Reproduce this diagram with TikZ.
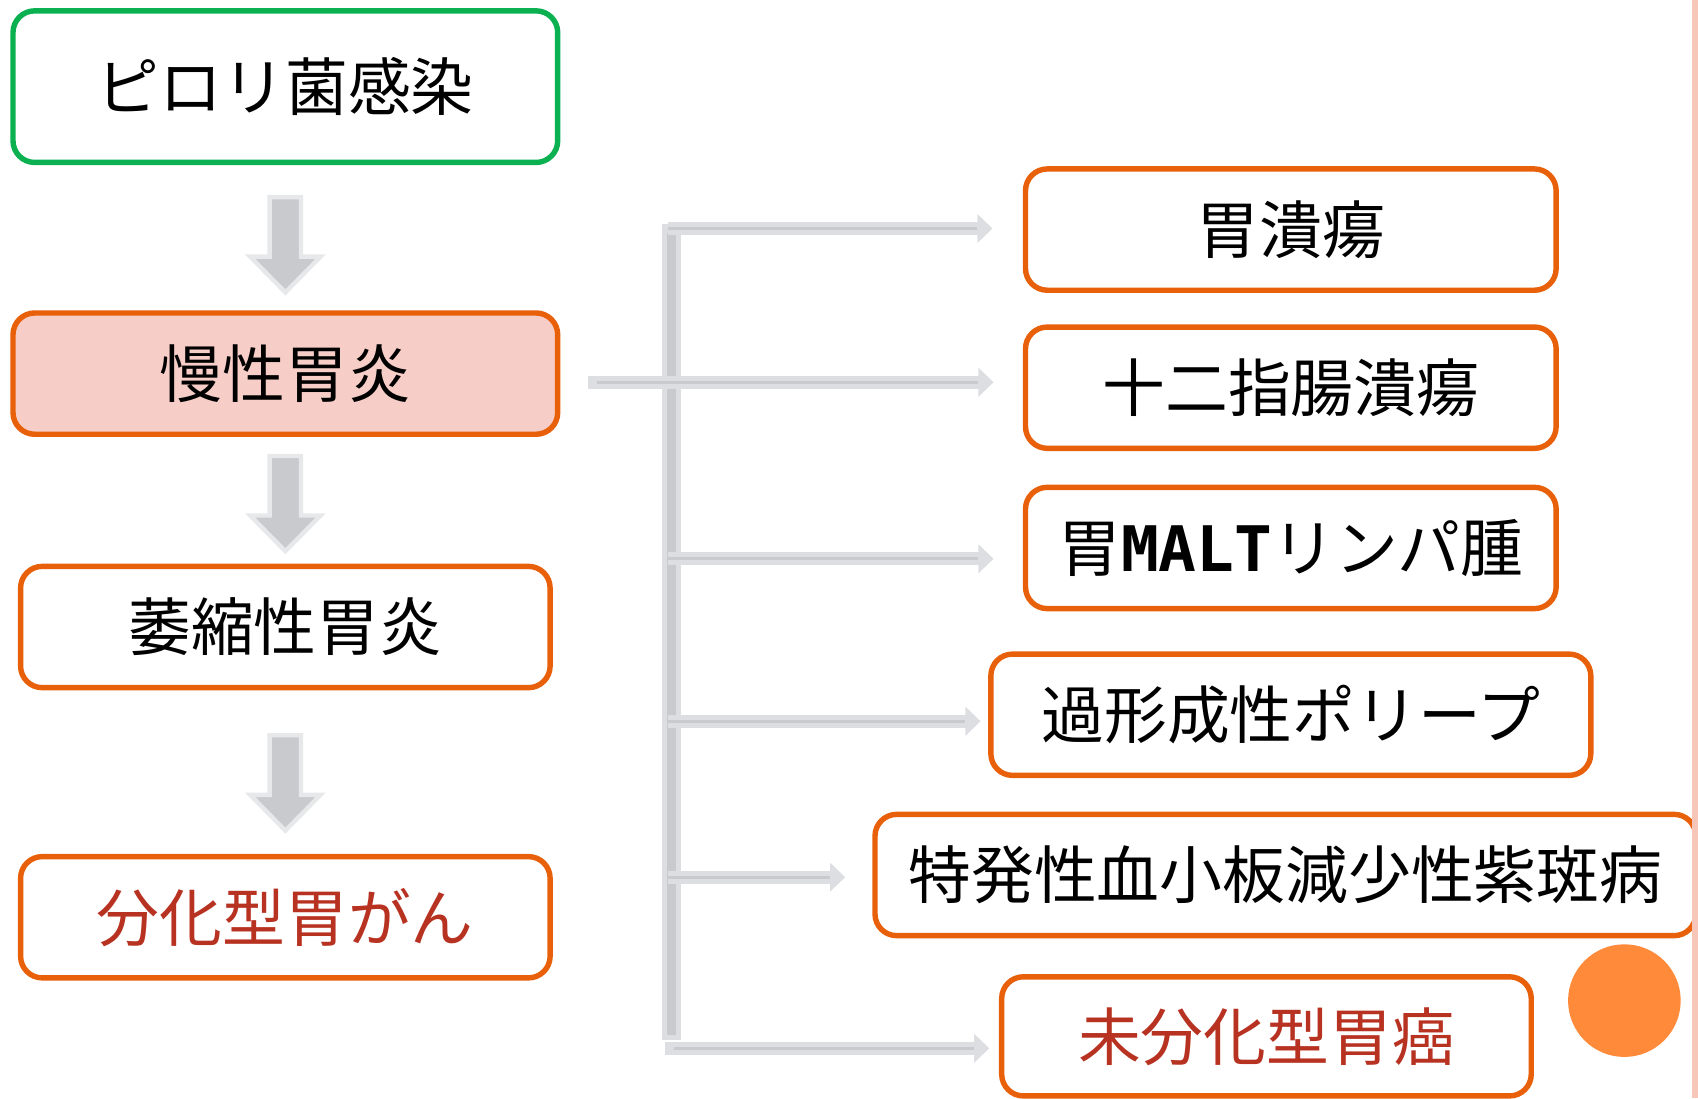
\documentclass[tikz,border=0pt]{standalone}
\usepackage{fontspec}
\newfontfamily\jp{Noto Sans CJK JP}
\newfontfamily\malt{DejaVu Sans Mono}
\usetikzlibrary{arrows.meta,calc}
\definecolor{boxorange}{HTML}{E8600A}
\definecolor{boxgreen}{HTML}{0BB150}
\definecolor{boxpink}{HTML}{F6CDC7}
\definecolor{redtext}{HTML}{B83222}
\definecolor{gOuter}{HTML}{DCDEE1}
\definecolor{gInner}{HTML}{C9CACD}
\definecolor{circ}{HTML}{FF8A3A}
\definecolor{stripe}{HTML}{F8C6B8}
\begin{document}
\begin{tikzpicture}[x=0.5pt,y=-0.5pt,
  box/.style={draw=boxorange,line width=2.5pt,rounded corners=10pt,fill=white,
    minimum height=56pt,inner sep=0pt,font=\jp\fontsize{29pt}{30pt}\selectfont},
  downarrow/.style={fill=gInner,draw=gOuter!70!white,line width=2pt,line join=miter},
  branch/.style={draw=gOuter,line width=6pt,-{Triangle[length=7pt,width=13pt]}},
  branchin/.style={draw=gInner,line width=1.5pt}]
\useasboundingbox (0,0) rectangle (1568,1014);

% left column
\node[box,draw=boxgreen,minimum width=251.5pt,minimum height=70pt] (b1) at (263.5,80) {ピロリ菌感染};
\node[box,fill=boxpink,minimum width=251.5pt] (b2) at (263.5,345) {慢性胃炎};
\node[box,minimum width=244.5pt] (b3) at (263.5,579) {萎縮性胃炎};
\node[box,minimum width=244.5pt,text=redtext] (b4) at (263.5,847) {分化型胃がん};

% right column
\node[box,minimum width=245pt] (b5) at (1192,212) {胃潰瘍};
\node[box,minimum width=245pt] (b6) at (1192,358) {十二指腸潰瘍};
\node[box,minimum width=245pt] (b7) at (1192,506) {胃{\malt\bfseries MALT}リンパ腫};
\node[box,minimum width=277pt] (b8) at (1192,660) {過形成性ポリープ};
\node[box,minimum width=379pt] (b9) at (1187,808) {特発性血小板減少性紫斑病};
\node[box,minimum width=244.5pt,minimum height=55pt,text=redtext] (b10) at (1169.5,957) {未分化型胃癌};

% down block arrows
\foreach \dy in {0,239,497}{
  \begin{scope}[shift={(0,\dy)}]
    \draw[downarrow] (249,182) -- (278,182) -- (278,237) -- (296,237) -- (263.5,270)
      -- (231,237) -- (249,237) -- cycle;
  \end{scope}
}

% spine
\coordinate (top) at (620,207);
\coordinate (bot) at (620,960);
\draw[gOuter,line width=8.5pt] (top) -- (bot);
\draw[gInner,line width=4pt] ($(top)+(0,8)$) -- ($(bot)+(0,-4)$);

% branch starts
\coordinate (s1) at (617,211);
\coordinate (s2) at (617,353);
\coordinate (s3) at (617,516);
\coordinate (s4) at (617,666);
\coordinate (s5) at (617,810);
\coordinate (s6) at (614,968);
\coordinate (in) at (543,353);

\draw[gOuter,line width=6pt] (in) -- (s2);
\draw[branchin] ($(in)+(8,0)$) -- (s2);

\draw[branch,shorten >=14pt] (s1) -- (s1 -| b5.west);
\draw[branchin,shorten >=21pt] (s1) -- (s1 -| b5.west);
\draw[branch,shorten >=13.5pt] (s2) -- (s2 -| b6.west);
\draw[branchin,shorten >=20.5pt] (s2) -- (s2 -| b6.west);
\draw[branch,shorten >=13.5pt] (s3) -- (s3 -| b7.west);
\draw[branchin,shorten >=20.5pt] (s3) -- (s3 -| b7.west);
\draw[branch,shorten >=3.5pt] (s4) -- (s4 -| b8.west);
\draw[branchin,shorten >=10.5pt] (s4) -- (s4 -| b8.west);
\draw[branch,shorten >=12.5pt] (s5) -- (s5 -| b9.west);
\draw[branchin,shorten >=19.5pt] (s5) -- (s5 -| b9.west);
\draw[branch,shorten >=4.5pt] (s6) -- (s6 -| b10.west);
\draw[branchin,shorten >=11.5pt] ($(s6)+(8,0)$) -- (s6 -| b10.west);

% decorations
\fill[circ] (1500,924) circle[radius=26pt];
\fill[stripe] (1562,0) rectangle (1568,1014);
\end{tikzpicture}
\end{document}
